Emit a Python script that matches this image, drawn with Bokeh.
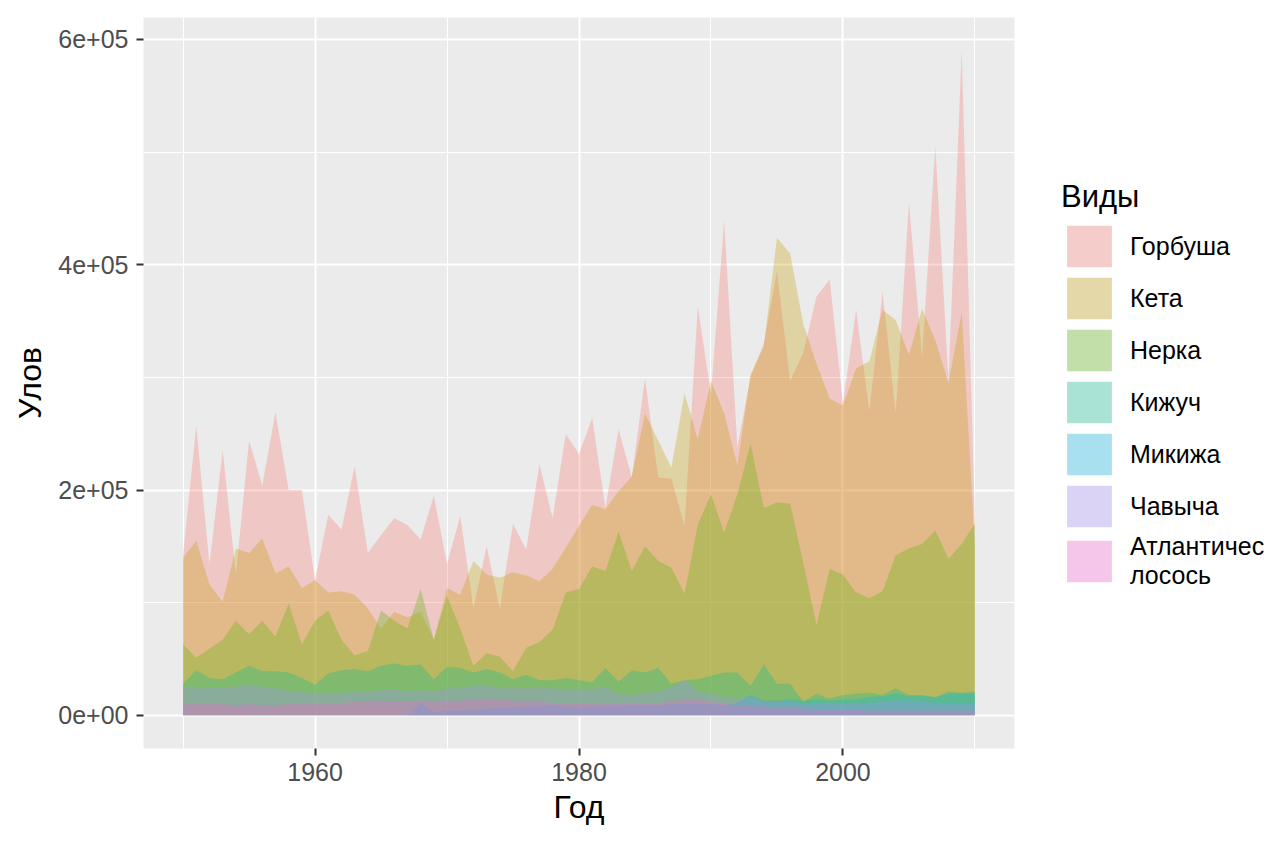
from bokeh.plotting import figure
from bokeh.layouts import row
from bokeh.models import ColumnDataSource, Legend, LegendItem, FixedTicker, Range1d
from bokeh.embed import file_html
from bokeh.resources import INLINE

# ---- data (catch, thousands) ----
years = list(range(1950, 2011))
species = ["Горбуша", "Кета", "Нерка", "Кижуч", "Микижа", "Чавыча", "Атлантический\nлосось"]

pink = [143, 257, 134, 235, 125, 244, 204, 269, 200, 200,
        120, 178, 165, 221, 144, 160, 175, 169, 156, 195,
        134, 177, 95, 150, 95, 170, 147, 223, 175, 250,
        232, 264, 184, 254, 211, 299, 211, 210, 168, 363,
        285, 439, 238, 300, 330, 394, 297, 322, 372, 387,
        277, 360, 270, 376, 268, 455, 318, 505, 297, 590,
        171]
chum = [140, 155, 116, 101, 148, 144, 157, 126, 132, 113,
        120, 109, 110, 107, 95, 77, 92, 87, 92, 67,
        113, 107, 137, 125, 122, 127, 124, 119, 130, 149,
        168, 187, 183, 199, 212, 268, 244, 220, 286, 245,
        297, 268, 222, 303, 327, 424, 410, 347, 312, 281,
        275, 308, 314, 360, 351, 320, 361, 333, 295, 358,
        150]
sockeye = [63, 51, 59, 67, 84, 72, 84, 70, 99, 63,
           84, 93, 67, 53, 57, 93, 84, 77, 112, 67,
           106, 77, 44, 55, 52, 39, 60, 65, 76, 109,
           112, 132, 128, 163, 128, 150, 137, 131, 108, 169,
           196, 162, 196, 241, 184, 189, 188, 135, 80, 130,
           125, 109, 104, 110, 142, 148, 152, 164, 139, 152,
           170]
coho = [28, 40, 33, 32, 38, 44, 39, 39, 38, 33,
        27, 37, 40, 41, 39, 44, 46, 44, 45, 32,
        43, 42, 38, 41, 38, 32, 36, 31, 31, 33,
        31, 29, 42, 30, 40, 38, 42, 28, 31, 32,
        35, 38, 38, 26, 45, 28, 28, 12, 19, 15,
        18, 19, 20, 18, 24, 18, 18, 16, 21, 20,
        21]
steelhead = [0, 0, 0, 0, 0, 0, 0, 0, 0, 0,
             0, 0, 0, 0, 0, 0, 0, 0, 11, 3,
             4, 4.5, 5, 6, 7, 7, 8, 8, 9, 8,
             7, 8, 8, 8, 9, 9, 9, 10, 10, 10,
             10, 9, 11, 18, 13, 13, 14, 13, 14, 13,
             14, 14, 16, 17, 19, 17, 17, 16, 19, 19,
             20]
chinook = [24, 24, 24, 25, 25, 27, 25, 24, 22, 21,
           19, 20, 20, 21, 21, 22, 23, 21, 22, 21,
           24, 24, 26, 26, 24, 24, 24, 24, 24, 23,
           23, 23, 25, 19, 18, 20, 21, 25, 31, 21,
           19, 16, 15, 16, 13, 12, 12, 11, 11, 11,
           11, 11, 11, 12, 13, 13, 12, 11, 10, 10,
           11]
atlantic = [10, 10, 10, 10, 9, 10, 9, 9, 10, 10,
            10, 10, 11, 12, 13, 12, 12, 12, 12, 12,
            13, 13, 14, 15, 14, 13, 12, 12, 11, 11,
            11, 11, 11, 10, 10, 11, 11, 12, 14, 14,
            12, 10, 9, 8, 8, 7, 7, 6, 5, 5,
            5, 5, 4, 4, 4, 4, 4, 4, 4, 4,
            4]

series = [pink, chum, sockeye, coho, steelhead, chinook, atlantic]
colors = ["#F8766D", "#C49A00", "#53B400", "#00C094", "#00B6EB", "#A58AFF", "#FB61D7"]

x_ticks = [1960, 1980, 2000]
x_minor = [1950, 1970, 1990, 2010]
y_ticks = [0, 200000, 400000, 600000]
y_minor = [100000, 300000, 500000]
y_labels = ["0e+00", "2e+05", "4e+05", "6e+05"]

FONT = "Liberation Sans"
ALPHA = 0.3
H = 840

p = figure(width=1024, height=H, output_backend="svg", toolbar_location=None,
           x_range=Range1d(1947, 2013), y_range=Range1d(-29500, 619500),
           frame_width=871, frame_height=731,
           min_border_left=143, min_border_right=10, min_border_top=17, min_border_bottom=H - 17 - 731)

p.background_fill_color = "#EBEBEB"
p.border_fill_color = "white"
p.outline_line_color = None

src = ColumnDataSource(dict(year=years, **{f"s{i}": [v * 1000 for v in s] for i, s in enumerate(series)}))
for i, c in enumerate(colors):
    p.varea(x="year", y1=0, y2=f"s{i}", source=src, fill_color=c, fill_alpha=ALPHA)

# axes
p.xaxis.ticker = FixedTicker(ticks=x_ticks, minor_ticks=x_minor)
p.yaxis.ticker = FixedTicker(ticks=y_ticks, minor_ticks=y_minor)
p.yaxis.major_label_overrides = {t: l for t, l in zip(y_ticks, y_labels)}
p.xaxis.axis_label = "Год"
p.yaxis.axis_label = "Улов"

for ax in (p.xaxis, p.yaxis):
    ax.axis_line_color = None
    ax.major_tick_line_color = "#333333"
    ax.major_tick_line_width = 2
    ax.major_tick_out = 7
    ax.major_tick_in = 0
    ax.minor_tick_line_color = None
    ax.major_label_text_font = FONT
    ax.major_label_text_font_size = "25px"
    ax.major_label_text_color = "#4D4D4D"
    ax.axis_label_text_font = FONT
    ax.axis_label_text_font_size = "32px"
    ax.axis_label_text_font_style = "normal"
    ax.axis_label_text_color = "black"

p.xaxis.major_label_standoff = 7
p.xaxis.axis_label_standoff = 5
p.yaxis.major_label_standoff = 8
p.yaxis.axis_label_standoff = 7

for g in (p.xgrid, p.ygrid):
    g.grid_line_color = "white"
    g.grid_line_width = 2
    g.minor_grid_line_color = "white"
    g.minor_grid_line_width = 1

# ---- legend panel ----
def blend(hexc, bg=242, a=ALPHA):
    r, g, b = int(hexc[1:3], 16), int(hexc[3:5], 16), int(hexc[5:7], 16)
    return "#%02x%02x%02x" % tuple(int(round(bg * (1 - a) + v * a)) for v in (r, g, b))

lp = figure(width=240, height=H, output_backend="svg", toolbar_location=None,
            x_range=Range1d(0, 1), y_range=Range1d(0, 1),
            x_axis_type=None, y_axis_type=None,
            min_border=0, min_border_left=0, min_border_right=0, min_border_top=0, min_border_bottom=0)
lp.outline_line_color = None
lp.background_fill_color = "white"
lp.border_fill_color = "white"

# zero-size key renderers (one degenerate point each) used only for the legend swatches
key_src = ColumnDataSource(dict(x=[0], y=[0]))
items = []
for name, c in zip(species, colors):
    r = lp.varea(x="x", y1="y", y2="y", source=key_src, fill_color=blend(c), fill_alpha=1.0)
    items.append(LegendItem(label=name, renderers=[r]))

legend = Legend(items=items, location=(37, 158), title="Виды",
                title_text_font=FONT, title_text_font_size="31px", title_text_font_style="normal",
                title_text_color="black", title_standoff=5,
                label_text_font=FONT, label_text_font_size="25px", label_text_color="black",
                label_text_line_height=1.4,
                glyph_width=56, glyph_height=52, label_height=47, spacing=0, label_standoff=13,
                padding=0, margin=0, border_line_color=None, background_fill_alpha=0)
lp.add_layout(legend)

layout = row(p, lp)
open("out.html", "w").write(file_html(layout, INLINE))
